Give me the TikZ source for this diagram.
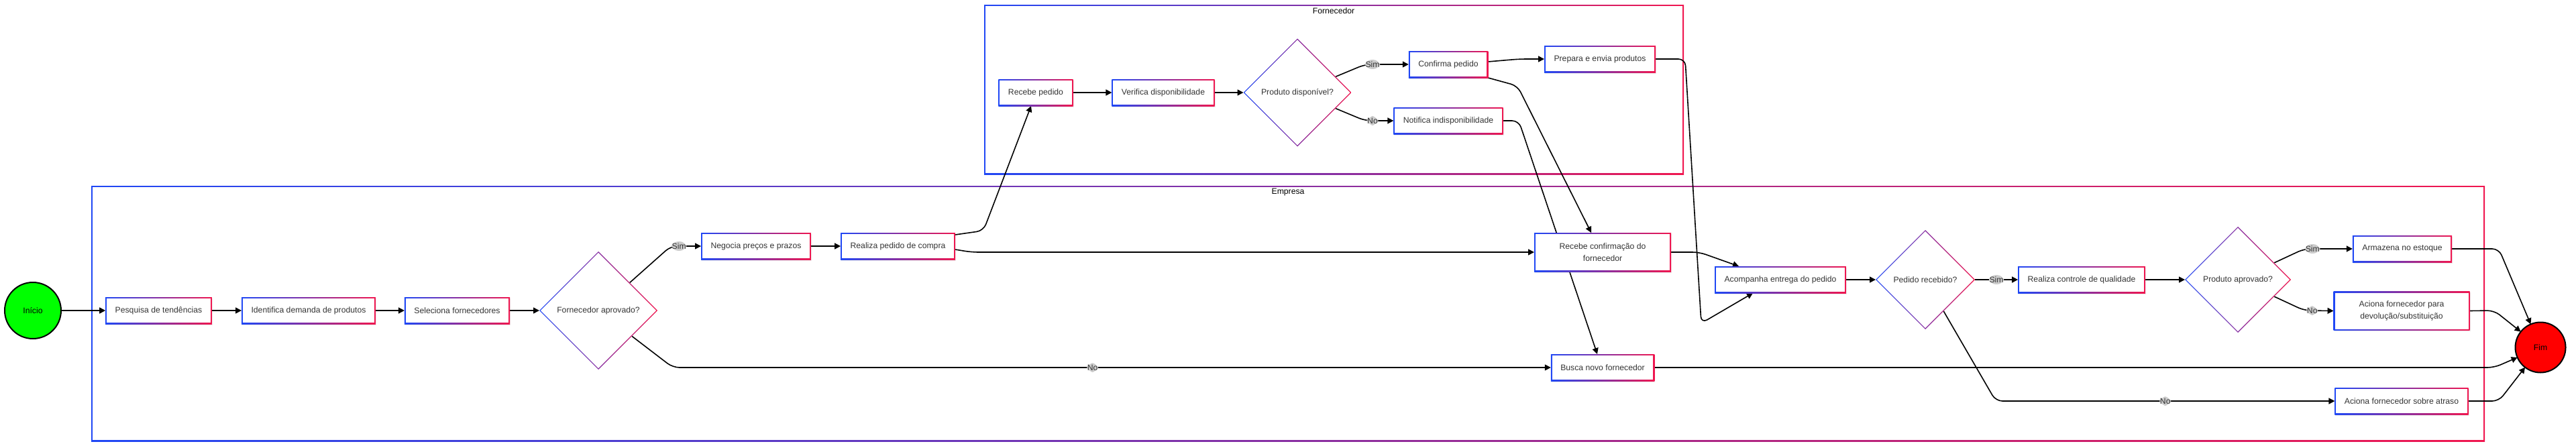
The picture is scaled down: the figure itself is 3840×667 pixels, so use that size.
\documentclass[tikz,border=0pt]{standalone}
\usepackage{amsmath}
\usepackage{xcolor}
\usepackage{fontspec}
\setmainfont{Liberation Sans}
\usepackage{tikz}
\usetikzlibrary{shapes.geometric,arrows.meta,shadows}

\definecolor{gradA}{HTML}{1F47F5}
\definecolor{gradB}{HTML}{F0164F}
\definecolor{txtgray}{HTML}{333333}
\definecolor{lblgray}{HTML}{CCCCCC}

\pgfdeclarelayer{frames}
\pgfdeclarelayer{links}
\pgfsetlayers{frames,links,main}

\tikzset{
    txt/.style={font=\fontsize{12.2}{18.3}\selectfont},
    frame/.style={rectangle, fill=white, inner sep=0pt, outer sep=0pt,
        path picture={
            \shade [left color=gradA, right color=gradB] (path picture bounding box.south west) rectangle (path picture bounding box.north east);
            \fill [white] ([shift={(2pt,2pt)}]path picture bounding box.south west) rectangle ([shift={(-2pt,-2pt)}]path picture bounding box.north east);
        }},
    box/.style={frame, txt, text=txtgray, inner xsep=14.5pt, minimum height=40pt, align=center,
        drop shadow={opacity=0.15, shadow xshift=1pt, shadow yshift=-1.5pt}},
    decision/.style={txt, diamond, aspect=1, fill=white, text=txtgray, inner sep=0pt, outer sep=0pt,
        path picture={
            \shade [left color=gradA, right color=gradB] (path picture bounding box.south west) rectangle (path picture bounding box.north east);
            \fill [white] ([xshift=1.9pt]path picture bounding box.west) -- ([yshift=-1.9pt]path picture bounding box.north) -- ([xshift=-1.9pt]path picture bounding box.east) -- ([yshift=1.9pt]path picture bounding box.south) -- cycle;
        }},
    term/.style={txt, circle, draw=black, line width=2pt, text=black, inner sep=0pt, outer sep=0pt},
    lbl/.style={txt, fill=lblgray, text=txtgray, inner xsep=0.5pt, inner ysep=2.5pt},
    link/.style={->, line width=1.6pt, rounded corners=10pt},
    >={Triangle[length=9pt,width=9pt]}
}

\begin{document}
\begin{tikzpicture}[x=1pt, y=-1pt]
            \useasboundingbox (0,0) rectangle (3840,667);

            % raias
            \begin{pgfonlayer}{frames}
            \node [frame, minimum width=1043pt, minimum height=253pt] (fornecedor) at (1988.5,133.5) {};
            \node [frame, minimum width=3568pt, minimum height=381pt] (empresa) at (1920,467.5) {};
            \end{pgfonlayer}
            \node [txt] (fornecedorTit) at (1988,16) {Fornecedor};
            \node [txt] (empresaTit) at (1920,287) {Empresa};

            % empresa
            \node [term, fill={rgb,255:red,0;green,255;blue,0}, minimum size=84pt] (inicio) at (49,463) {Início};
            \node [box] (pesquisa) at (236.5,463) {Pesquisa de tendências};
            \node [box] (identifica) at (460,463) {Identifica demanda de produtos};
            \node [box] (seleciona) at (681.5,463) {Seleciona fornecedores};
            \node [decision, minimum width=176pt, minimum height=176pt] (fornAprov) at (892,463) {Fornecedor aprovado?};
            \node [box] (negocia) at (1127,367) {Negocia preços e prazos};
            \node [box] (realiza) at (1338.5,367) {Realiza pedido de compra};
            \node [box, minimum width=204pt, minimum height=58pt] (recebeConf) at (2389,376) {Recebe confirmação do\\fornecedor};
            \node [box] (busca) at (2389,548) {Busca novo fornecedor};
            \node [box] (acompanha) at (2654,417) {Acompanha entrega do pedido};
            \node [decision, minimum width=148pt, minimum height=148pt] (pedRec) at (2870,417) {Pedido recebido?};
            \node [box] (controle) at (3103,417) {Realiza controle de qualidade};
            \node [decision, minimum width=158pt, minimum height=158pt] (prodAprov) at (3336,417) {Produto aprovado?};
            \node [box] (armazena) at (3581,371) {Armazena no estoque};
            \node [box, minimum width=203pt, minimum height=58pt] (devolucao) at (3580,463.5) {Aciona fornecedor para\\devolução/substituição};
            \node [box] (atraso) at (3580,598) {Aciona fornecedor sobre atraso};
            \node [term, fill={rgb,255:red,255;green,0;blue,0}, minimum size=75pt] (fim) at (3787,518) {Fim};

            % fornecedor
            \node [box] (recebePed) at (1544,138) {Recebe pedido};
            \node [box] (verifica) at (1734,138) {Verifica disponibilidade};
            \node [decision, minimum width=161pt, minimum height=161pt] (prodDisp) at (1934,138) {Produto disponível?};
            \node [box] (confirma) at (2159,96) {Confirma pedido};
            \node [box] (prepara) at (2385,88) {Prepara e envia produtos};
            \node [box] (notifica) at (2159,180) {Notifica indisponibilidade};

            % ligacoes
            \begin{pgfonlayer}{links}
            \draw [link] (inicio) -- (pesquisa);
            \draw [link] (pesquisa) -- (identifica);
            \draw [link] (identifica) -- (seleciona);
            \draw [link] (seleciona) -- (fornAprov);
            \draw [link] (fornAprov) -- (1000,367) -- node [lbl, pos=0.27] (simA) {Sim} (negocia.west);
            \draw [link] (fornAprov) -- (1003,548) -- node [lbl, pos=0.478] (naoA) {No} (busca.west);
            \draw [link] (negocia) -- (realiza);
            \draw [link] ([yshift=-3pt]realiza.north east) -- (1466,344) -- ([xshift=-7pt]recebePed.south);
            \draw [link] ([yshift=-5pt]realiza.east) -- (1448,376) -- (recebeConf.west);
            \draw [link] (recebePed) -- (verifica);
            \draw [link] (verifica) -- (prodDisp);
            \draw [link] (prodDisp) -- (2035,96) -- node [lbl, pos=0.17] (simB) {Sim} (confirma.west);
            \draw [link] (prodDisp) -- (2035,180) -- node [lbl, pos=0.26] (naoB) {No} (notifica.west);
            \draw [link] ([yshift=4pt]confirma.east) -- (2265,88) -- (prepara.west);
            \draw [link] (confirma.south east) -- (2262,128) -- ([xshift=-17pt]recebeConf.north);
            \draw [link] (notifica.east) -- (2264,180) -- ([xshift=-8pt]busca.north);
            \draw [link] (prepara.east) -- (2512,88) -- (2536,482) -- ([xshift=-41pt]acompanha.south);
            \draw [link] (recebeConf.east) -- (2533,376) -- ([xshift=-62pt]acompanha.north);
            \draw [link] (acompanha) -- (pedRec);
            \draw [link] (pedRec) -- node [lbl, midway] (simC) {Sim} (controle);
            \draw [link] (pedRec) -- (2975,598) -- node [lbl, midway] (naoC) {No} (atraso.west);
            \draw [link] (controle) -- (prodAprov);
            \draw [link] (prodAprov) -- (3435,371) -- node [lbl, pos=0.17] (simD) {Sim} (armazena.west);
            \draw [link] (prodAprov) -- (3435,463) -- node [lbl, pos=0.27] (naoD) {No} (devolucao.west);
            \draw [link] (armazena.east) -- (3725,371) -- (fim);
            \draw [link] (devolucao.east) -- (3718,463) -- (fim);
            \draw [link] (busca.east) -- (3718,548) -- (fim);
            \draw [link] (atraso.east) -- (3725,598) -- (fim);
            \end{pgfonlayer}
        \end{tikzpicture}
\end{document}
